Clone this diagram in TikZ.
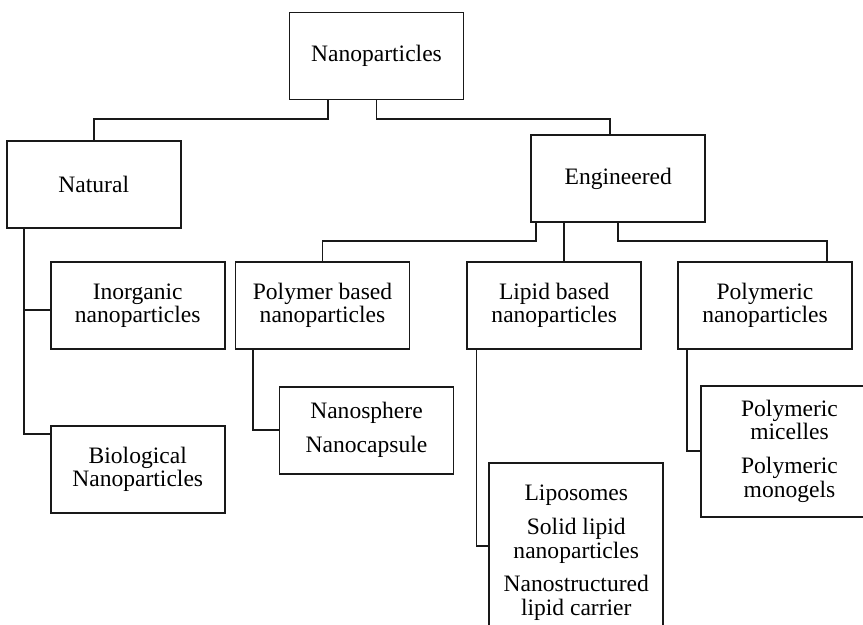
\documentclass[tikz,border=0pt]{standalone}
\usepackage{fontspec}
\setmainfont{Liberation Serif}
\usepackage{tikz}
\tikzstyle{box}=[rectangle,draw=black!90,line width=1pt,align=center,
minimum width=3.48cm,minimum height=1.74cm,inner sep=2pt]
\tikzstyle{link}=[draw=black!90,line width=1pt]
\usetikzlibrary{positioning}

\begin{document}
\begin{tikzpicture}[node distance=1cm,font=\fontsize{13.4pt}{13.3pt}\selectfont]
            \useasboundingbox (0,0) rectangle (17.26,-12.5);
            \clip (0,0) rectangle (17.26,-12.5);

            % TOP PART

            \node[box] at (7.53,-1.12) (nano) {Nanoparticles};
            \node[box,below left=0.8cm and 2.14cm of nano] (natural) {Natural};
            \node[box,below right=0.68cm and 1.32cm of nano] (eng) {Engineered};

            \path[link] ([xshift=-0.97cm]nano.south) -- ++(0,-0.38) -| (natural.north);
            \path[link] (nano.south) -- ++(0,-0.38) -| ([xshift=-0.16cm]eng.north);

            % Natural PART

            \node[box,below right=0.64cm and 0.88cm of natural.south west] (inorg) {Inorganic\\nanoparticles};
            \node[box,below=1.5cm of inorg] (bio) {Biological\\Nanoparticles};

            \path[link] ([xshift=0.36cm]natural.south west) |- ([yshift=-0.09cm]inorg.west);
            \path[link] ([xshift=0.36cm]natural.south west) |- ([yshift=-0.18cm]bio.north west);

            % Engineered PART

            \node[box,right=0.18cm of inorg] (poly) {Polymer based\\nanoparticles};
            \node[box,right=1.12cm of poly] (lipid) {Lipid based\\nanoparticles};
            \node[box,right=0.7cm of lipid] (pnano) {Polymeric\\nanoparticles};

            \path[link] ([xshift=-1.64cm]eng.south) -- ++(0,-0.36) -| (poly.north);
            \path[link] ([xshift=-1.08cm]eng.south) -- ([xshift=-1.08cm]eng.south |- lipid.north);
            \path[link] (eng.south) -- ++(0,-0.36) -| ([xshift=1.24cm]pnano.north);

            % Leaves

            \node[box,below right=0.72cm and 0.88cm of poly.south west] (nsph) {Nanosphere\\[6pt]Nanocapsule};
            \node[box,minimum height=3.6cm,below right=2.24cm and 0.44cm of lipid.south west] (lipo)
                {Liposomes\\[6pt]Solid lipid\\nanoparticles\\[6pt]Nanostructured\\lipid carrier};
            \node[box,minimum width=3.54cm,minimum height=2.62cm,below right=0.7cm and 0.46cm of pnano.south west] (pmic)
                {Polymeric\\micelles\\[6pt]Polymeric\\monogels};

            \path[link] ([xshift=0.36cm]poly.south west) |- (nsph.west);
            \path[link] ([xshift=0.2cm]lipid.south west) |- ([yshift=-1.68cm]lipo.north west);
            \path[link] ([xshift=0.2cm]pnano.south west) |- (pmic.west);

        \end{tikzpicture}
\end{document}
